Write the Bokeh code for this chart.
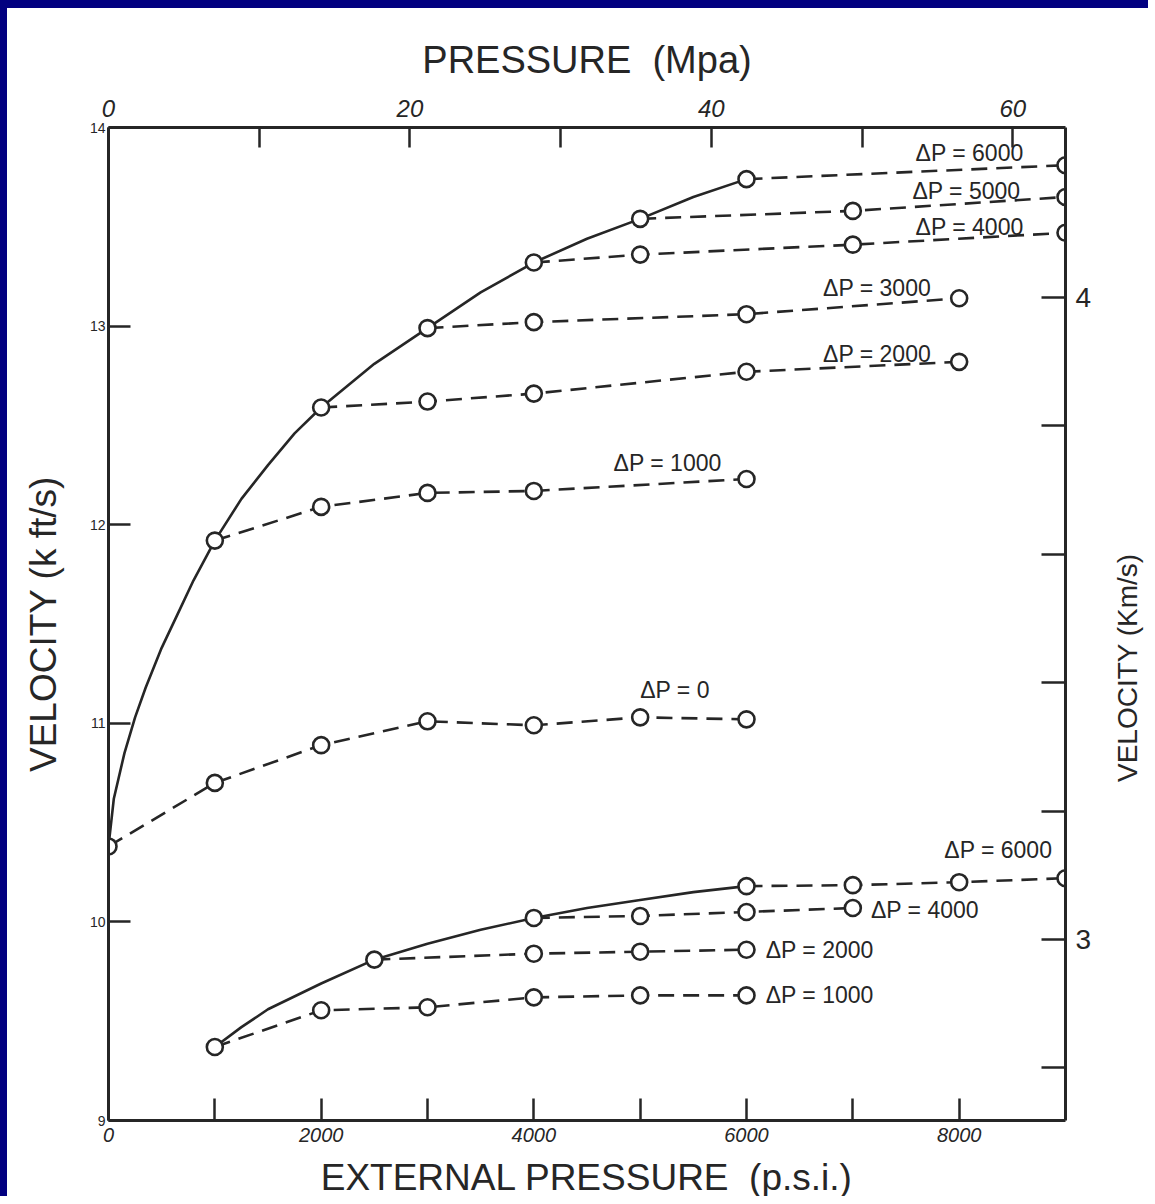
import math
from bokeh.plotting import figure
from bokeh.models import Range1d, LinearAxis, FixedTicker, ColumnDataSource, Label
from bokeh.embed import file_html
from bokeh.resources import INLINE
from bokeh.core.properties import value

# ---------------- data ----------------
# secondary scales as drawn on the chart
MPA_AT_9000_PSI = 63.5
KMS_BOTTOM, KMS_TOP = 2.718, 4.265

# upper family (x = external pressure psi, y = velocity kft/s)
# envelope curve as traced on the picture
up_env_psi = [0, 50, 150, 250, 350, 500, 650, 800, 1000, 1250, 1500, 1750, 2000,
              2500, 3000, 3500, 4000, 4500, 5000, 5500, 6000]
up_env_vel = [10.38, 10.62, 10.85, 11.03, 11.18, 11.38, 11.55, 11.72, 11.92, 12.13, 12.30, 12.46, 12.59,
              12.81, 12.99, 13.17, 13.32, 13.44, 13.54, 13.65, 13.74]

up_dp0_psi = [0, 1000, 2000, 3000, 4000, 5000, 6000]
up_dp0_vel = [10.38, 10.70, 10.89, 11.01, 10.99, 11.03, 11.02]
up_dp1000_psi = [1000, 2000, 3000, 4000, 6000]
up_dp1000_vel = [11.92, 12.09, 12.16, 12.17, 12.23]
up_dp2000_psi = [2000, 3000, 4000, 6000, 8000]
up_dp2000_vel = [12.59, 12.62, 12.66, 12.77, 12.82]
up_dp3000_psi = [3000, 4000, 6000, 8000]
up_dp3000_vel = [12.99, 13.02, 13.06, 13.14]
up_dp4000_psi = [4000, 5000, 7000, 9000]
up_dp4000_vel = [13.32, 13.36, 13.41, 13.47]
up_dp5000_psi = [5000, 7000, 9000]
up_dp5000_vel = [13.54, 13.58, 13.65]
up_dp6000_psi = [6000, 9000]
up_dp6000_vel = [13.74, 13.81]

# lower family
lo_env_psi = [1000, 1250, 1500, 2000, 2500, 3000, 3500, 4000, 4500, 5000, 5500, 6000]
lo_env_vel = [9.37, 9.47, 9.56, 9.69, 9.81, 9.89, 9.96, 10.02, 10.07, 10.11, 10.15, 10.18]

lo_dp1000_psi = [1000, 2000, 3000, 4000, 5000, 6000]
lo_dp1000_vel = [9.37, 9.555, 9.57, 9.62, 9.63, 9.63]
lo_dp2000_psi = [2500, 4000, 5000, 6000]
lo_dp2000_vel = [9.81, 9.84, 9.85, 9.86]
lo_dp4000_psi = [4000, 5000, 6000, 7000]
lo_dp4000_vel = [10.02, 10.03, 10.05, 10.07]
lo_dp6000_psi = [6000, 7000, 8000, 9000]
lo_dp6000_vel = [10.18, 10.185, 10.20, 10.22]

series_labels = ["ΔP = 6000", "ΔP = 5000", "ΔP = 4000", "ΔP = 3000", "ΔP = 2000",
                 "ΔP = 1000", "ΔP = 0",
                 "ΔP = 6000", "ΔP = 4000", "ΔP = 2000", "ΔP = 1000"]

# tick values / labels
psi_ticks = [0, 1000, 2000, 3000, 4000, 5000, 6000, 7000, 8000]
psi_labels = ["0", "", "2000", "", "4000", "", "6000", "", "8000"]
kft_ticks = [9, 10, 11, 12, 13, 14]
mpa_ticks = [0, 10, 20, 30, 40, 50, 60]
mpa_labels = ["0", "", "20", "", "40", "", "60"]
kms_ticks = [2.8, 3.0, 3.2, 3.4, 3.6, 3.8, 4.0]
kms_labels = ["", "3", "", "", "", "", "4"]

# label anchor positions (psi, kft/s) for the ΔP annotations
label_pos_x = [7590, 7560, 7590, 6720, 6720, 4750, 5000, 7860, 7170, 6180, 6180]
label_pos_y = [13.87, 13.68, 13.50, 13.19, 12.86, 12.31, 11.17, 10.36, 10.06, 9.86, 9.63]

# ---------------- figure ----------------
INK = "#262626"
NAVY = "#020080"
FONT = "Liberation Sans"
NB = "\u00a0"

p = figure(width=1148, height=1196, output_backend="svg", toolbar_location=None,
           x_range=Range1d(0, 9000), y_range=Range1d(9, 14),
           min_border_left=101, min_border_right=90, min_border_top=119, min_border_bottom=84,
           background_fill_color="white", border_fill_color="white")
p.styles = {"border-top": "8px solid " + NAVY, "border-left": "7px solid " + NAVY}
p.grid.visible = False
p.outline_line_color = None

p.extra_x_ranges = {"mpa": Range1d(0, MPA_AT_9000_PSI)}
p.extra_y_ranges = {"kms": Range1d(KMS_BOTTOM, KMS_TOP)}


def style_axis(ax, ticks, labels, tick_len, lab_size, lab_standoff, title, title_size, title_standoff, italic=False):
    ax.ticker = FixedTicker(ticks=ticks, minor_ticks=[])
    if labels is not None:
        ax.major_label_overrides = {t: l for t, l in zip(ticks, labels)}
    ax.major_tick_in = tick_len
    ax.major_tick_out = 0
    ax.minor_tick_in = 0
    ax.minor_tick_out = 0
    ax.major_tick_line_width = 2.5
    ax.major_tick_line_color = INK
    ax.axis_line_width = 3
    ax.axis_line_color = INK
    ax.major_label_text_font = FONT
    ax.major_label_text_font_size = lab_size
    ax.major_label_text_color = INK
    ax.major_label_standoff = lab_standoff
    if italic:
        ax.major_label_text_font_style = "italic"
    if title is not None:
        ax.axis_label = title
        ax.axis_label_text_font = FONT
        ax.axis_label_text_font_size = title_size
        ax.axis_label_text_font_style = "normal"
        ax.axis_label_text_color = INK
        ax.axis_label_standoff = title_standoff


style_axis(p.xaxis[0], psi_ticks, psi_labels, 22, "20px", 7,
           "EXTERNAL PRESSURE" + NB + NB + "(p.s.i.)", "37px", 12, italic=True)
style_axis(p.yaxis[0], kft_ticks, None, 22, "14px", 3,
           "VELOCITY (k ft/s)", "37px", 23)

top_ax = LinearAxis(x_range_name="mpa")
style_axis(top_ax, mpa_ticks, mpa_labels, 20, "24px", 11,
           "PRESSURE" + NB + NB + "(Mpa)", "38px", 16, italic=True)
p.add_layout(top_ax, "above")

right_ax = LinearAxis(y_range_name="kms")
style_axis(right_ax, kms_ticks, kms_labels, 24, "28px", 10, None, None, None)
p.add_layout(right_ax, "right")

# right-hand axis title, reading bottom-to-top, placed beside the km/s scale
p.add_layout(Label(x=9585, y=11.28, text="VELOCITY (Km/s)", angle=math.pi / 2,
                   text_font=FONT, text_font_size="28px", text_color=INK,
                   text_align="center", text_baseline="middle"), "right")

# ---------------- curves ----------------
LW = 2.6
DASH = "16 9"

p.line(up_env_psi, up_env_vel, line_color=INK, line_width=LW)
p.line(lo_env_psi, lo_env_vel, line_color=INK, line_width=LW)

dashed = [
    (up_dp0_psi, up_dp0_vel), (up_dp1000_psi, up_dp1000_vel), (up_dp2000_psi, up_dp2000_vel),
    (up_dp3000_psi, up_dp3000_vel), (up_dp4000_psi, up_dp4000_vel), (up_dp5000_psi, up_dp5000_vel),
    (up_dp6000_psi, up_dp6000_vel),
    (lo_dp1000_psi, lo_dp1000_vel), (lo_dp2000_psi, lo_dp2000_vel), (lo_dp4000_psi, lo_dp4000_vel),
    (lo_dp6000_psi, lo_dp6000_vel),
]
for xs, ys in dashed:
    p.line(xs, ys, line_color=INK, line_width=LW, line_dash=DASH)
for xs, ys in dashed:
    p.scatter(xs, ys, marker="circle", size=16, line_color=INK, line_width=2.6, fill_color="white")

# ---------------- ΔP annotations ----------------
src = ColumnDataSource(dict(x=label_pos_x, y=label_pos_y, t=series_labels))
p.text(x="x", y="y", text="t", source=src, text_font=value(FONT), text_font_size="23px",
       text_color=INK, text_align="left", text_baseline="middle")

open("out.html", "w").write(file_html(p, INLINE))
